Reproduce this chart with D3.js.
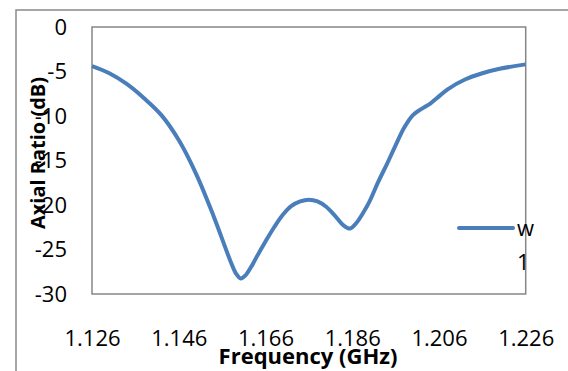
<!DOCTYPE html>
<html><head><meta charset="utf-8">
<script src="https://cdn.jsdelivr.net/npm/d3@7"></script>
<style>body{margin:0;background:#fff;} svg{display:block;}</style>
</head><body><svg id="c" width="568" height="371"></svg>
<script>
const seriesName = "w1";
const freq = [1.126,1.130,1.134,1.138,1.142,1.146,1.150,1.154,1.158,1.1592,1.1603,1.1614,1.163,1.164,1.166,1.168,1.170,1.172,1.174,1.176,1.178,1.180,1.182,1.184,1.1855,1.187,1.1885,1.190,1.192,1.194,1.196,1.198,1.200,1.202,1.204,1.206,1.208,1.212,1.216,1.220,1.226];
const axialRatio = [-4.4,-5.2,-6.4,-8.0,-9.9,-12.7,-16.5,-21.2,-26.4,-27.7,-28.25,-27.9,-26.7,-25.8,-24.1,-22.5,-21.1,-20.1,-19.6,-19.4,-19.6,-20.2,-21.2,-22.3,-22.65,-22.0,-20.9,-19.6,-17.4,-15.4,-13.3,-11.3,-9.9,-9.2,-8.6,-7.8,-7.0,-5.9,-5.2,-4.7,-4.2];
const xTicks = [1.126,1.146,1.166,1.186,1.206,1.226];
const yTicks = [0,-5,-10,-15,-20,-25,-30];

const svg = d3.select("#c");
const font = "'Open Sans', sans-serif";
const L = 92, R = 525.7, T = 27, B = 294;
const x = d3.scaleLinear().domain([1.126,1.226]).range([L,R]);
const y = d3.scaleLinear().domain([-30,0]).range([B,T]);

svg.append("rect").attr("x",16).attr("y",10).attr("width",600).attr("height",400)
  .attr("fill","none").attr("stroke","#898989").attr("stroke-width",1.5);

svg.append("rect").attr("x",L).attr("y",T).attr("width",R-L).attr("height",B-T)
  .attr("fill","none").attr("stroke","#868686").attr("stroke-width",1.5);

const yAxis = svg.append("g").attr("transform",`translate(${L-25},0)`)
  .call(d3.axisLeft(y).tickValues(yTicks).tickSize(0).tickFormat(d => String(d)));
yAxis.select(".domain").remove();
yAxis.selectAll("text").attr("font-family",font).attr("font-size",22).attr("fill","#000").attr("x",0);

const xAxis = svg.append("g").attr("transform",`translate(0,${B+36})`)
  .call(d3.axisBottom(x).tickValues(xTicks).tickSize(0).tickFormat(d => d.toFixed(3)));
xAxis.select(".domain").remove();
xAxis.selectAll("text").attr("font-family",font).attr("font-size",22).attr("fill","#000").attr("y",0).attr("dy","0.71em");

const line = d3.line().x((d,i)=>x(freq[i])).y(d=>y(d)).curve(d3.curveCatmullRom.alpha(0.5));
svg.append("path").datum(axialRatio).attr("d",line).attr("fill","none")
  .attr("stroke","#4a7ebb").attr("stroke-width",4).attr("stroke-linejoin","round");

svg.append("text").attr("x",308).attr("y",356).attr("dy","0.35em").attr("text-anchor","middle")
  .attr("font-family",font).attr("font-weight","bold").attr("font-size",22).text("Frequency (GHz)");
svg.append("text").attr("transform","translate(38,153) rotate(-90)").attr("dy","0.35em").attr("text-anchor","middle")
  .attr("font-family",font).attr("font-weight","bold").attr("font-size",20).text("Axial Ratio (dB)");

// legend
svg.append("line").attr("x1",459).attr("x2",513).attr("y1",228).attr("y2",228)
  .attr("stroke","#4a7ebb").attr("stroke-width",4).attr("stroke-linecap","round");
svg.append("text").attr("x",517).attr("y",228).attr("dy","0.35em").attr("font-family",font).attr("font-size",22).text(seriesName.slice(0,1));
svg.append("text").attr("x",517).attr("y",262).attr("dy","0.35em").attr("font-family",font).attr("font-size",22).text(seriesName.slice(1));
</script></body></html>
